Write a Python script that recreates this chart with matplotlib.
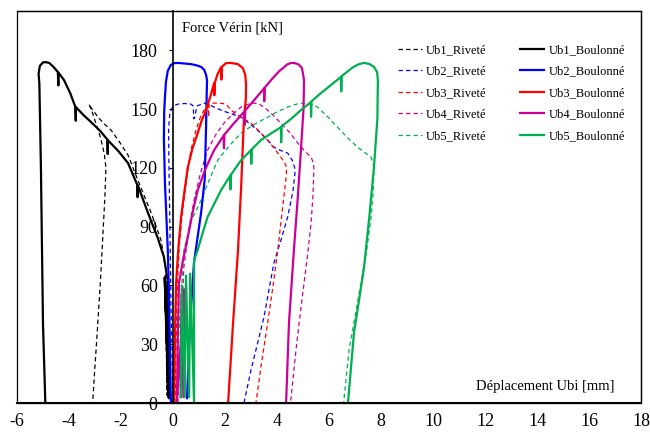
import matplotlib
matplotlib.use('Agg')
import matplotlib.pyplot as plt
from matplotlib import patches

plt.rcParams['font.family'] = ['Liberation Serif', 'DejaVu Serif']

# displacement [mm] / force [kN]
ub1_riv_x = [-0.20, -0.25, -0.20, -0.30, -0.23, -0.27, -0.46, -0.85, -1.30, -1.73,
             -2.05, -2.38, -2.65, -2.88, -3.08, -3.20, -3.23, -3.12, -2.95, -2.78,
             -2.64, -2.58, -2.62, -2.70, -2.80, -2.92, -3.02, -3.09]
ub1_riv_f = [3, 60, 4, 65, 4, 67.8, 83.1, 97.4, 112, 126.5,
             133, 139.2, 142.5, 145.8, 149.4, 151.5, 152.5, 149, 142, 135,
             127, 120, 105, 85, 60, 35, 15, 0]

ub1_bou_x = [-0.15, -0.30, -0.18, -0.32, -0.15, -0.19, -0.35, -0.58, -0.96, -1.35,
             -1.36, -1.38, -1.73, -2.10, -2.50, -2.51, -2.53, -2.80, -3.15, -3.45,
             -3.73, -3.74, -3.76, -3.95, -4.19, -4.40, -4.41, -4.43, -4.60, -4.75,
             -4.88, -5.00, -5.12, -5.17, -5.14, -5.08, -5.00, -4.91]
ub1_bou_f = [2.5, 62, 3, 64, 3, 61.2, 74.5, 84, 96.9, 111,
             105, 111.5, 122.4, 128.5, 134, 127, 134.5, 138.8, 143.3, 147,
             150.9, 144, 151.2, 158, 164.7, 168.5, 162, 168.9, 171.5, 173.4,
             173.9, 173.8, 172, 168, 163, 120, 40, 0]

ub2_riv_x = [0.00, -0.08, -0.13, -0.16, -0.17, -0.12, 0.00, 0.19, 0.45, 0.69,
             0.78, 0.80, 0.84, 0.92, 1.19, 1.50, 1.85, 2.25, 2.62, 3.00,
             3.38, 3.65, 3.88, 4.15, 4.41, 4.58, 4.68, 4.69, 4.62, 4.41,
             4.15, 3.88, 3.50, 3.00, 2.73]
ub2_riv_f = [0, 52.5, 100, 125, 140, 148, 151.5, 152.5, 152.8, 152.5,
             151.5, 145, 146, 151.5, 153, 151.5, 149.4, 147.5, 145.8, 142,
             137.7, 134, 130.5, 128.8, 127.5, 124, 120, 117.3, 108.6, 94.9,
             83, 71.4, 43.9, 16.8, 0]

ub2_bou_x = [-0.08, -0.12, -0.15, -0.20, -0.27, -0.31, -0.35, -0.34, -0.31, -0.27,
             -0.20, -0.08, 0.05, 0.19, 0.45, 0.69, 0.90, 1.08, 1.20, 1.27,
             1.31, 1.30, 1.27, 1.22, 1.08, 0.95, 0.81, 0.70, 0.62, 0.54]
ub2_bou_f = [0, 30, 52.5, 78, 100, 112.2, 135, 148, 156, 164,
             169.5, 172.5, 173.4, 173.5, 173.2, 172.9, 172.3, 171.5, 170, 167.5,
             164.7, 160, 140, 114, 97, 85, 72, 50, 30, 2.5]

ub3_riv_x = [0.08, 0.15, 0.23, 0.32, 0.42, 0.55, 0.69, 0.88, 1.08, 1.25,
             1.35, 1.37, 1.39, 1.55, 1.72, 1.90, 2.04, 2.23, 2.60, 3.00,
             3.30, 3.64, 3.90, 4.15, 4.30, 4.37, 4.35, 4.20, 4.03, 3.85,
             3.64, 3.40, 3.19]
ub3_riv_f = [0, 52.5, 78, 92, 103.5, 117, 129, 139, 146.9, 150.5,
             152, 146, 152.2, 153, 153, 152.8, 152.5, 149.4, 146, 142.8,
             138.8, 134.1, 129.8, 125.4, 122.5, 120.3, 115.2, 98, 78, 60,
             40.8, 20, 0]

ub3_bou_x = [0.04, 0.08, 0.12, 0.20, 0.31, 0.45, 0.57, 0.75, 0.95, 1.10,
             1.27, 1.45, 1.58, 1.59, 1.61, 1.72, 1.85, 1.86, 1.88, 2.04,
             2.23, 2.50, 2.69, 2.78, 2.81, 2.80, 2.73, 2.62, 2.50, 2.31,
             2.12]
ub3_bou_f = [0, 37.2, 61.2, 78, 94.9, 109, 120.3, 130, 137.7, 144,
             149.4, 157, 163.2, 157, 163.5, 168, 171.3, 165, 171.6, 173.4,
             173.5, 172.9, 170.8, 167.3, 162.2, 155, 145.8, 110, 78, 40.8,
             0]

ub4_riv_x = [0.19, 0.31, 0.42, 0.60, 0.81, 1.05, 1.33, 1.65, 1.96, 2.30,
             2.62, 2.90, 3.12, 3.30, 3.50, 3.80, 4.15, 4.50, 4.80, 5.05,
             5.31, 5.40, 5.42, 5.38, 5.31, 5.18, 5.04, 4.88, 4.73, 4.52]
ub4_riv_f = [0, 37.2, 69.4, 88, 103.5, 117, 129, 137, 142.8, 147.5,
             151, 152.5, 153, 152.6, 151, 147.5, 142.8, 137.8, 132.6, 128.8,
             125.4, 122.5, 119.8, 105, 91.8, 76, 61.2, 44, 27, 0]

ub4_bou_x = [0.30, 0.33, 0.40, 0.43, 0.15, 0.19, 0.23, 0.40, 0.57, 0.75,
             0.95, 1.25, 1.58, 1.95, 1.96, 1.98, 2.35, 2.75, 2.76, 2.78,
             3.12, 3.50, 3.51, 3.53, 3.88, 4.10, 4.27, 4.40, 4.54, 4.68,
             4.81, 4.92, 4.96, 5.00, 5.04, 5.02, 4.92, 4.80, 4.65, 4.46,
             4.35]
ub4_bou_f = [3, 55, 3, 58, 0, 37.2, 61.2, 74, 84.7, 97,
             108.6, 119.5, 129, 136.5, 130, 137, 142.8, 148.8, 142, 149.3,
             154.5, 160.5, 154, 161, 166.4, 169.5, 171.3, 172.8, 173.5, 173.4,
             172.9, 171.5, 170.8, 168, 164.7, 150, 129, 105, 78, 40.8,
             0]

ub5_riv_x = [0.12, 0.23, 0.42, 0.70, 1.08, 1.40, 1.72, 2.15, 2.62, 3.10,
             3.64, 4.00, 4.41, 4.75, 5.04, 5.30, 5.56, 5.95, 6.33, 6.70,
             7.10, 7.40, 7.62, 7.73, 7.70, 7.62, 7.45, 7.23, 7.00, 6.77,
             6.56]
ub5_riv_f = [0, 37.2, 78, 93, 103.5, 114, 123.9, 131, 137.7, 142,
             145.8, 148.5, 151, 152.5, 153, 152.5, 151, 146, 140.7, 135.5,
             130.5, 127.5, 125.4, 120.3, 108, 94.9, 78, 61.2, 44, 27,
             0]

ub5_bou_x = [0.30, 0.34, 0.45, 0.50, 0.62, 0.66, 0.81, 0.81, 0.95, 1.10,
             1.33, 1.60, 1.85, 2.20, 2.21, 2.23, 2.62, 3.00, 3.01, 3.03,
             3.38, 3.80, 4.15, 4.16, 4.18, 4.50, 4.92, 5.30, 5.31, 5.33,
             5.69, 6.10, 6.46, 6.47, 6.49, 6.70, 6.92, 7.15, 7.35, 7.55,
             7.73, 7.85, 7.88, 7.86, 7.73, 7.55, 7.35, 7.15, 6.96, 6.73]
ub5_bou_f = [3, 60, 3, 65, 3, 66, 0, 72.9, 78, 85,
             94.9, 102, 108.6, 116, 109, 116.5, 123.9, 129, 122, 129.5,
             134.1, 137.8, 140.7, 133, 141.2, 144.5, 149.4, 153.5, 146, 154,
             158.1, 162.5, 166.4, 159, 166.8, 169, 171.3, 172.9, 173.5, 173,
             171.5, 168.8, 164.7, 145, 120.3, 95, 69.4, 52, 35.7, 0]

COLORS = ['black', '#0000FF', '#FF0000', '#CC0099', '#00B050']
RIVETE = [(ub1_riv_x, ub1_riv_f), (ub2_riv_x, ub2_riv_f), (ub3_riv_x, ub3_riv_f),
          (ub4_riv_x, ub4_riv_f), (ub5_riv_x, ub5_riv_f)]
BOULONNE = [(ub1_bou_x, ub1_bou_f), (ub2_bou_x, ub2_bou_f), (ub3_bou_x, ub3_bou_f),
            (ub4_bou_x, ub4_bou_f), (ub5_bou_x, ub5_bou_f)]
X_TICKS = list(range(-6, 19, 2))
Y_TICKS = list(range(0, 181, 30))

fig = plt.figure(figsize=(6.5, 4.33), dpi=100)
ax = fig.add_axes([17 / 650, 30 / 433, 624 / 650, 392 / 433])

handles = []
for i, (x, f) in enumerate(RIVETE):
    h, = ax.plot(x, f, color=COLORS[i], lw=0.9, linestyle=(0, (3.5, 2.5)),
                 label=f'Ub{i + 1}_Riveté')
    handles.append(h)
for i, (x, f) in enumerate(BOULONNE):
    h, = ax.plot(x, f, color=COLORS[i], lw=1.6, label=f'Ub{i + 1}_Boulonné')
    handles.append(h)

ax.set_xlim(-6, 18)
ax.set_ylim(0, 200)
ax.spines['left'].set_position(('data', 0))
ax.spines['left'].set_linewidth(1.2)
ax.spines['bottom'].set_linewidth(1.5)
ax.spines['top'].set_linewidth(0.9)
ax.spines['right'].set_linewidth(0.9)
ax.add_patch(patches.Rectangle((0, 0), 1, 1, transform=ax.transAxes, fill=False,
                               lw=0.9, edgecolor='black', clip_on=False))

ax.set_xticks(X_TICKS)
ax.set_xticklabels([str(t) for t in X_TICKS])
ax.set_yticks(Y_TICKS)
ax.set_yticklabels([str(t) for t in Y_TICKS])
ax.tick_params(axis='x', length=0, pad=7, labelsize=13)
ax.tick_params(axis='y', length=3, direction='out', pad=8, labelsize=13)

ax.text(0.35, 194.5, 'Force Vérin [kN]', fontsize=10.5, ha='left', va='top')
ax.text(17.0, 8.5, 'Déplacement Ubi [mm]', fontsize=10.5, ha='right', va='center')

fig.legend(handles=handles, ncol=2, frameon=False, fontsize=9,
           loc='upper left', bbox_to_anchor=(398 / 650, 1 - 44 / 433),
           borderaxespad=0, borderpad=0, handlelength=1.9, handletextpad=0.35,
           labelspacing=0.76, columnspacing=2.7)

fig.savefig('out.png', dpi=100)
